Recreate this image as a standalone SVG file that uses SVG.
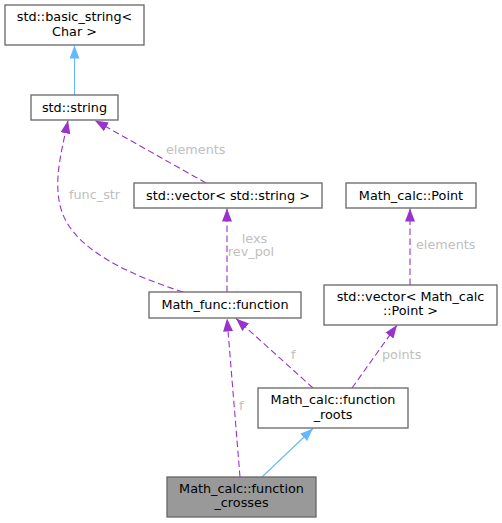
<svg xmlns="http://www.w3.org/2000/svg" width="502" height="523" viewBox="0 0 502 523">
<style>
.node rect{fill:#ffffff;stroke:#666666;stroke-width:1.3}
.node.hl rect{fill:#999999}
text{font-family:"DejaVu Sans","Noto Sans",sans-serif;font-size:12.8px}
.node text{fill:#000000;text-anchor:middle}
.lbl{fill:#c0c0c0}
.mid{text-anchor:middle}
.dep{fill:none;stroke:#9a32cd;stroke-width:1.1;stroke-dasharray:6.5,3.5;marker-end:url(#ap)}
.inh{fill:none;stroke:#63b8ff;stroke-width:1.1;marker-end:url(#ab)}
</style>
<defs>
<marker id="ap" markerUnits="userSpaceOnUse" viewBox="0 0 13 10" refX="13" refY="5" markerWidth="13" markerHeight="10" orient="auto">
<path d="M0,0 L13,5 L0,10 z" fill="#9a32cd"/>
</marker>
<marker id="ab" markerUnits="userSpaceOnUse" viewBox="0 0 13 10" refX="13" refY="5" markerWidth="13" markerHeight="10" orient="auto">
<path d="M0,0 L13,5 L0,10 z" fill="#63b8ff"/>
</marker>
</defs>
<rect width="502" height="523" fill="#ffffff"/>
<g id="connectors">
<path class="inh" d="M74.5,95 L74.5,45.5"/>
<path class="dep" d="M206,183 L95,120.5"/>
<text class="lbl" x="166" y="154">elements</text>
<path class="dep" d="M183,292 C130,275 75,250 62,212 C52,183 62,150 68,120.5"/>
<text class="lbl" x="69" y="199">func_str</text>
<path class="dep" d="M227,292 L227,208.5"/>
<text class="lbl mid" x="254.5" y="242.5">lexs</text>
<text class="lbl mid" x="251" y="255.5">rev_pol</text>
<path class="dep" d="M410,285 L410,208.5"/>
<text class="lbl" x="416" y="249">elements</text>
<path class="dep" d="M313,388 L236,318.5"/>
<text class="lbl" x="291" y="359">f</text>
<path class="dep" d="M352,388 L397,325"/>
<text class="lbl" x="382" y="359">points</text>
<path class="dep" d="M240,477 L227,318.5"/>
<text class="lbl" x="239" y="410">f</text>
<path class="inh" d="M262,477 L313,428.5"/>
</g>
<g id="basic_string" class="node">
<rect x="5" y="5" width="139" height="40"/>
<text x="74.5" y="20.5">std::basic_string&lt;</text>
<text x="74.5" y="35.5">Char &gt;</text>
</g>
<g id="std_string" class="node">
<rect x="31" y="95" width="87" height="25"/>
<text x="74.5" y="111.5">std::string</text>
</g>
<g id="vector_string" class="node">
<rect x="134" y="183" width="188" height="25"/>
<text x="228" y="199.5">std::vector&lt; std::string &gt;</text>
</g>
<g id="point" class="node">
<rect x="346" y="183" width="130" height="25"/>
<text x="411" y="199.5">Math_calc::Point</text>
</g>
<g id="function" class="node">
<rect x="149" y="292" width="152" height="26"/>
<text x="225" y="308.5">Math_func::function</text>
</g>
<g id="vector_point" class="node">
<rect x="324" y="285" width="173" height="40"/>
<text x="410.5" y="300.5">std::vector&lt; Math_calc</text>
<text x="410.5" y="315">::Point &gt;</text>
</g>
<g id="function_roots" class="node">
<rect x="258" y="388" width="150" height="40"/>
<text x="333" y="403.5">Math_calc::function</text>
<text x="333" y="418.5">_roots</text>
</g>
<g id="function_crosses" class="node hl">
<rect x="167" y="477" width="149" height="40"/>
<text x="241.5" y="492.5">Math_calc::function</text>
<text x="241.5" y="507">_crosses</text>
</g>
</svg>
